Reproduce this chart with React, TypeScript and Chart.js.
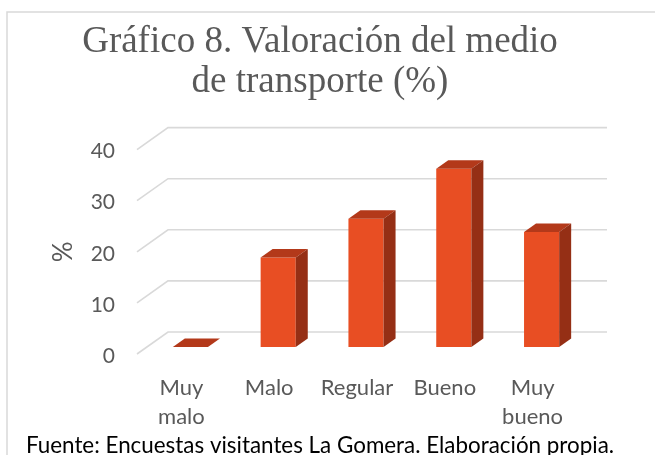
import React, { useEffect, useRef } from 'react';
import { Chart, registerables } from 'chart.js';

Chart.register(...registerables);

// ---- data ----
const categories: string[][] = [['Muy', 'malo'], ['Malo'], ['Regular'], ['Bueno'], ['Muy', 'bueno']];
const values: number[] = [0, 17.5, 25.1, 34.9, 22.5];
const yTicks: number[] = [0, 10, 20, 30, 40];
const titleLines: string[] = ['Gráfico 8. Valoración del medio', 'de transporte (%)'];
const axisTitle = '%';
const sourceNote = 'Fuente: Encuestas visitantes La Gomera. Elaboración propia.';

// ---- styles ----
const FRONT = '#E84E23';
const TOP = '#B3391A';
const SIDE = '#952F15';
const GRID = '#D9D9D9';
const TEXT = '#595959';
const SANS = 'Lato, "Noto Sans", sans-serif';
const SERIF = '"Liberation Serif", "Times New Roman", serif';
const DEPTH_X = 12;
const DEPTH_Y = 8.5;
const WALL_DX = 21.5;
const WALL_DY = 15;
const FRONT_DX = 9.5;
const FRONT_DY = 7;

const excel3d = {
  id: 'excel3d',
  beforeDraw(chart: any) {
    const { ctx, width, height } = chart;
    ctx.save();
    ctx.fillStyle = '#ffffff';
    ctx.fillRect(0, 0, width, height);
    ctx.strokeStyle = GRID;
    ctx.lineWidth = 1.5;
    ctx.strokeRect(7, 12, width + 40, height + 40);
    ctx.restore();
  },
  beforeDatasetsDraw(chart: any) {
    const { ctx, chartArea, scales } = chart;
    const y = scales.y;
    ctx.save();
    ctx.strokeStyle = GRID;
    ctx.lineWidth = 1.6;
    y.ticks.forEach((t: any) => {
      const py = y.getPixelForValue(t.value);
      ctx.beginPath();
      ctx.moveTo(chartArea.left - FRONT_DX, py + FRONT_DY);
      ctx.lineTo(chartArea.left + WALL_DX, py - WALL_DY);
      ctx.lineTo(chartArea.right + WALL_DX, py - WALL_DY);
      ctx.stroke();
    });
    ctx.restore();
  },
  afterDatasetsDraw(chart: any) {
    const { ctx } = chart;
    const meta = chart.getDatasetMeta(0);
    ctx.save();
    meta.data.forEach((bar: any) => {
      const { x, y, base, width } = bar.getProps(['x', 'y', 'base', 'width'], true);
      const x0 = x - width / 2;
      const x1 = x + width / 2;
      // top face
      ctx.fillStyle = TOP;
      ctx.beginPath();
      ctx.moveTo(x0, y);
      ctx.lineTo(x1, y);
      ctx.lineTo(x1 + DEPTH_X, y - DEPTH_Y);
      ctx.lineTo(x0 + DEPTH_X, y - DEPTH_Y);
      ctx.closePath();
      ctx.fill();
      // side face
      if (base - y > 0.5) {
        ctx.fillStyle = SIDE;
        ctx.beginPath();
        ctx.moveTo(x1, y);
        ctx.lineTo(x1 + DEPTH_X, y - DEPTH_Y);
        ctx.lineTo(x1 + DEPTH_X, base - DEPTH_Y);
        ctx.lineTo(x1, base);
        ctx.closePath();
        ctx.fill();
      }
    });
    ctx.restore();
  },
  afterDraw(chart: any) {
    const { ctx, chartArea } = chart;
    ctx.save();
    // y-axis title (rotated), centred on the front plane of the axis
    ctx.fillStyle = TEXT;
    ctx.font = `26px ${SANS}`;
    ctx.textAlign = 'center';
    ctx.textBaseline = 'middle';
    ctx.translate(64, (chartArea.top + chartArea.bottom) / 2 + 7);
    ctx.rotate(-Math.PI / 2);
    ctx.fillText(axisTitle, 0, 0);
    ctx.restore();

    ctx.save();
    ctx.fillStyle = '#000000';
    ctx.font = `22.4px ${SANS}`;
    ctx.textAlign = 'center';
    ctx.textBaseline = 'alphabetic';
    ctx.fillText(sourceNote, 320, 453);
    ctx.restore();
  },
};

export default function App() {
  const canvasRef = useRef<HTMLCanvasElement | null>(null);

  useEffect(() => {
    if (!canvasRef.current) return;
    const chart = new Chart(canvasRef.current, {
      type: 'bar',
      data: {
        labels: categories,
        datasets: [
          {
            data: values,
            backgroundColor: FRONT,
            borderWidth: 0,
            barPercentage: 1,
            categoryPercentage: 0.4,
          },
        ],
      },
      options: {
        animation: false,
        responsive: false,
        layout: { padding: { left: 54.5, right: 69.5, top: 0, bottom: 0 } },
        plugins: {
          legend: { display: false },
          tooltip: { enabled: false },
          title: {
            display: true,
            text: titleLines,
            color: TEXT,
            font: { family: SERIF, size: 37, weight: 'normal', lineHeight: 40 / 37 },
            padding: { top: 22, bottom: 40.6 },
          },
        },
        scales: {
          x: {
            grid: { display: false, drawTicks: false },
            border: { display: false },
            ticks: {
              color: TEXT,
              font: { family: SANS, size: 22, lineHeight: 1.32 },
              labelOffset: -9,
              padding: 26,
              maxRotation: 0,
              autoSkip: false,
            },
            afterFit: (s: any) => {
              s.height = 108;
            },
          },
          y: {
            min: 0,
            max: 40,
            grid: { display: false, drawTicks: false },
            border: { display: false },
            afterBuildTicks: (s: any) => {
              s.ticks = yTicks.map((v) => ({ value: v }));
            },
            ticks: {
              color: TEXT,
              font: { family: SANS, size: 21 },
              padding: 31.5,
              labelOffset: 9,
            },
            title: { display: false },
            afterFit: (s: any) => {
              s.width = 92;
            },
          },
        },
      } as any,
      plugins: [excel3d],
    });
    return () => chart.destroy();
  }, []);

  return (
    <div style={{ position: 'absolute', left: 0, top: 0, width: 655, height: 455 }}>
      <canvas ref={canvasRef} width={655} height={455} style={{ display: 'block' }} />
    </div>
  );
}
